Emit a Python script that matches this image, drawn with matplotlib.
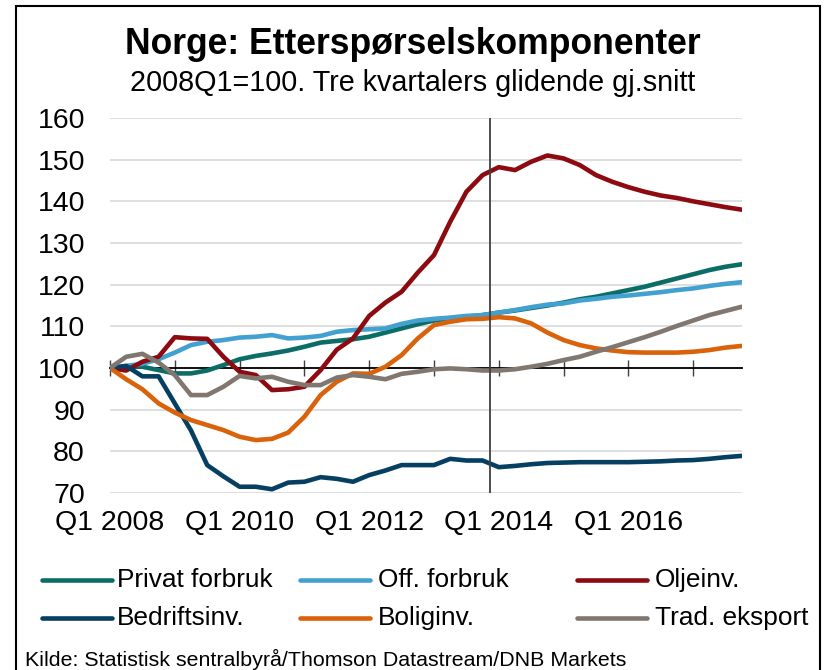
import matplotlib
matplotlib.use("Agg")
import matplotlib.pyplot as plt
from matplotlib.lines import Line2D
from matplotlib.patches import Rectangle

plt.rcParams['font.family'] = ['Liberation Sans', 'DejaVu Sans']

quarters = list(range(40))  # Q1 2008 .. Q4 2017
tick_labels = ["Q1 2008", "Q1 2010", "Q1 2012", "Q1 2014", "Q1 2016"]
tick_pos = [0, 8, 16, 24, 32]

privat = [100, 100.3, 100.3, 99.5, 98.7, 98.7, 99.4, 100.7, 102.1, 102.9,
          103.5, 104.2, 105.1, 106.1, 106.5, 106.9, 107.5, 108.5, 109.5, 110.5,
          111.4, 111.9, 112.3, 112.7, 113.3, 113.8, 114.4, 115.0, 115.7, 116.5,
          117.1, 117.9, 118.7, 119.5, 120.5, 121.5, 122.5, 123.5, 124.3, 124.9]
off = [100, 100.5, 101.0, 102.1, 103.7, 105.5, 106.3, 106.7, 107.3, 107.5,
       107.9, 107.1, 107.3, 107.7, 108.7, 109.1, 109.3, 109.5, 110.6, 111.4,
       111.8, 112.1, 112.5, 112.7, 113.3, 113.9, 114.6, 115.2, 115.5, 116.2,
       116.6, 117.1, 117.4, 117.8, 118.2, 118.7, 119.1, 119.7, 120.2, 120.6]
olje = [100, 99.4, 101.5, 102.7, 107.4, 107.1, 107.0, 102.7, 99.1, 98.3,
        94.7, 94.9, 95.5, 99.5, 104.4, 107.1, 112.5, 115.7, 118.3, 122.9,
        127.1, 135.1, 142.3, 146.3, 148.2, 147.5, 149.5, 151.0, 150.3, 148.7,
        146.3, 144.7, 143.4, 142.3, 141.4, 140.8, 140.0, 139.3, 138.6, 138.0]
bedrift = [100, 100.5, 98.0, 98.0, 91.5, 85.0, 76.7, 74.0, 71.5, 71.5,
           70.9, 72.5, 72.7, 73.8, 73.4, 72.7, 74.3, 75.4, 76.7, 76.7,
           76.7, 78.2, 77.8, 77.8, 76.2, 76.5, 76.9, 77.2, 77.3, 77.4,
           77.4, 77.4, 77.4, 77.5, 77.6, 77.8, 77.9, 78.2, 78.6, 78.9]
bolig = [100, 97.3, 94.9, 91.5, 89.3, 87.5, 86.3, 85.1, 83.5, 82.7,
         83.0, 84.5, 88.3, 93.5, 96.7, 98.7, 98.6, 100.3, 103.1, 107.1,
         110.3, 111.1, 111.7, 111.8, 112.2, 111.9, 110.7, 108.5, 106.7, 105.5,
         104.7, 104.2, 103.8, 103.7, 103.7, 103.7, 103.9, 104.3, 104.9, 105.3]
trad = [100, 102.7, 103.4, 101.3, 98.3, 93.5, 93.5, 95.5, 98.1, 97.5,
        97.9, 96.7, 95.9, 95.9, 97.7, 98.3, 97.9, 97.3, 98.6, 99.1,
        99.7, 99.9, 99.7, 99.4, 99.4, 99.7, 100.3, 101.0, 101.9, 102.7,
        103.9, 105.0, 106.2, 107.4, 108.7, 110.1, 111.4, 112.7, 113.7, 114.7]

series_names = ["Privat forbruk", "Off. forbruk", "Oljeinv.",
                "Bedriftsinv.", "Boliginv.", "Trad. eksport"]
series_vals = [privat, off, olje, bedrift, bolig, trad]
colors = ["#0b6d66", "#42a1d0", "#8c0a10", "#053f61", "#d9620b", "#7f7770"]

W, H = 825, 670
fig = plt.figure(figsize=(W / 100, H / 100), dpi=100)
ax = fig.add_axes([110 / W, 1 - 493 / H, (741.8 - 110) / W, (493 - 118) / H])

for y in range(70, 161, 10):
    ax.axhline(y, color="#d9d9d9", lw=1.2, zorder=0)

for vals, c in zip(series_vals, colors):
    ax.plot(quarters, vals, color=c, lw=3.3, solid_capstyle="round",
            solid_joinstyle="round", zorder=3)

ax.axvline(23.45, color="#404040", lw=1.3, zorder=4)

ax.set_xlim(0, 39)
ax.set_ylim(70, 160)
ax.set_yticks(range(70, 161, 10))
ax.set_xticks(tick_pos)
ax.set_xticklabels(tick_labels)
ax.tick_params(axis="both", length=0, labelsize=20.5, colors="black")
ax.tick_params(axis="y", pad=18)
ax.tick_params(axis="x", pad=12)
for s in ax.spines.values():
    s.set_visible(False)

# axis line at 100 with crossing tick marks
sec = ax.secondary_xaxis((100 - 70) / 90)
sec.set_xticks(list(range(0, 40, 4)))
sec.set_xticklabels([])
sec.tick_params(direction="inout", length=12, width=1.0, color="#404040")
sec.spines["bottom"].set_color("black")
sec.spines["bottom"].set_linewidth(1.3)
sec.spines["bottom"].set_zorder(2)

fig.text(0.5, 1 - 45 / H, "Norge: Etterspørselskomponenter", ha="center",
         va="center", fontsize=25.6, fontweight="bold")
fig.text(0.5, 1 - 83 / H, "2008Q1=100. Tre kvartalers glidende gj.snitt",
         ha="center", va="center", fontsize=20.7)

# legend
col_line_x = [42, 300, 577]
col_text_x = [117, 378, 655]
row_y = [580, 618]
for k, (name, c) in enumerate(zip(series_names, colors)):
    r, col = divmod(k, 3)
    x0 = col_line_x[col]
    y = 1 - row_y[r] / H
    fig.add_artist(Line2D([x0 / W, (x0 + 70) / W], [y, y], color=c, lw=3.3,
                          solid_capstyle="round", transform=fig.transFigure))
    fig.text(col_text_x[col] / W, y, name, ha="left", va="center", fontsize=18.9)

fig.text(25 / W, 1 - 649 / H,
         "Kilde: Statistisk sentralbyrå/Thomson Datastream/DNB Markets",
         ha="left", va="top", fontsize=15.4)

fig.add_artist(Rectangle((16 / W, -0.02), (820 - 16) / W, 1.02 - 6 / H,
                         fill=False, edgecolor="black", lw=1.5,
                         transform=fig.transFigure))

fig.savefig("out.png", dpi=100)
